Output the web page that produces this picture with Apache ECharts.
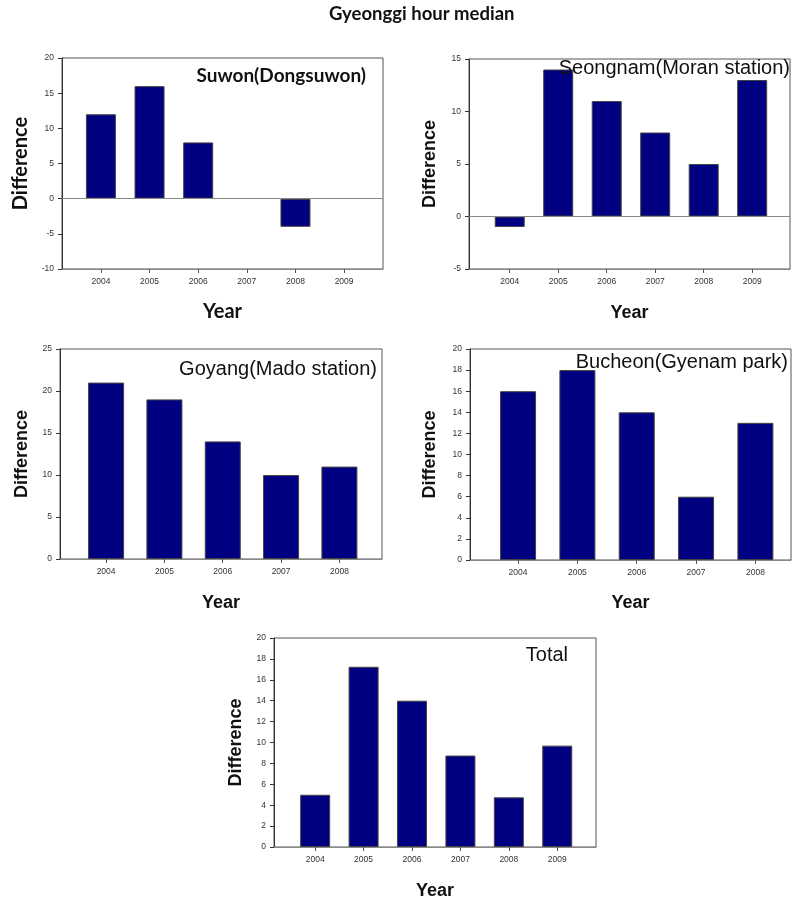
<!DOCTYPE html>
<html>
<head>
<meta charset="utf-8">
<script src="https://cdn.jsdelivr.net/npm/echarts@6/dist/echarts.min.js"></script>
<style>html,body{margin:0;padding:0;background:#fff}#c{width:792px;height:901px}</style>
</head>
<body>
<div id="c"></div>
<script>
// ---- data ----
const mainTitle = 'Gyeonggi hour median';
const yAxisName = 'Difference';
const xAxisName = 'Year';

const suwonLabel = 'Suwon(Dongsuwon)';
const suwonYears = [2004, 2005, 2006, 2007, 2008, 2009];
const suwonValues = [12, 16, 8, null, -4, null];

const seongnamLabel = 'Seongnam(Moran station)';
const seongnamYears = [2004, 2005, 2006, 2007, 2008, 2009];
const seongnamValues = [-1, 14, 11, 8, 5, 13];

const goyangLabel = 'Goyang(Mado station)';
const goyangYears = [2004, 2005, 2006, 2007, 2008];
const goyangValues = [21, 19, 14, 10, 11];

const bucheonLabel = 'Bucheon(Gyenam park)';
const bucheonYears = [2004, 2005, 2006, 2007, 2008];
const bucheonValues = [16, 18, 14, 6, 13];

const totalLabel = 'Total';
const totalYears = [2004, 2005, 2006, 2007, 2008, 2009];
const totalValues = [5, 17.25, 14, 8.75, 4.75, 9.7];

// y tick settings per panel
const suwonYTicks = {min: -10, max: 20, interval: 5};
const seongnamYTicks = {min: -5, max: 15, interval: 5};
const goyangYTicks = {min: 0, max: 25, interval: 5};
const bucheonYTicks = {min: 0, max: 20, interval: 2};
const totalYTicks = {min: 0, max: 20, interval: 2};

// ---- layout (not data) ----
const panels = [
  {label: suwonLabel, years: suwonYears, values: suwonValues, yt: suwonYTicks,
   grid: {left: 62, top: 58, width: 321, height: 211}, xr: [2003.2, 2009.8], bw: 30,
   labelFont: 'Lato', labelWeight: 'bold', labelSize: 19, labelPos: {right: 792 - 366, top: 66},
   nameFont: 'Lato', nameSize: 20, yGap: 31, xGap: 33, zero: true},
  {label: seongnamLabel, years: seongnamYears, values: seongnamValues, yt: seongnamYTicks,
   grid: {left: 469, top: 59, width: 321, height: 210}, xr: [2003.16, 2009.78], bw: 30,
   labelFont: 'Liberation Sans', labelWeight: 'normal', labelSize: 20, labelPos: {right: 2, top: 58},
   nameFont: 'Liberation Sans', nameSize: 18, yGap: 30, xGap: 35, zero: true},
  {label: goyangLabel, years: goyangYears, values: goyangValues, yt: goyangYTicks,
   grid: {left: 60, top: 349, width: 322, height: 210}, xr: [2003.21, 2008.73], bw: 36,
   labelFont: 'Liberation Sans', labelWeight: 'normal', labelSize: 20, labelPos: {right: 792 - 377, top: 359},
   nameFont: 'Liberation Sans', nameSize: 18, yGap: 29, xGap: 35, zero: false},
  {label: bucheonLabel, years: bucheonYears, values: bucheonValues, yt: bucheonYTicks,
   grid: {left: 470, top: 349, width: 321, height: 211}, xr: [2003.19, 2008.6], bw: 36,
   labelFont: 'Liberation Sans', labelWeight: 'normal', labelSize: 20, labelPos: {right: 4, top: 352},
   nameFont: 'Liberation Sans', nameSize: 18, yGap: 31, xGap: 34, zero: false},
  {label: totalLabel, years: totalYears, values: totalValues, yt: totalYTicks,
   grid: {left: 274, top: 638, width: 322, height: 210}, xr: [2003.15, 2009.8], bw: 30,
   labelFont: 'Liberation Sans', labelWeight: 'normal', labelSize: 20, labelPos: {right: 792 - 568, top: 645},
   nameFont: 'Liberation Sans', nameSize: 18, yGap: 29, xGap: 35, zero: false}
];

const grids = [], xAxes = [], yAxes = [], series = [];
const titles = [{
  text: mainTitle, left: 329, top: 5, padding: 0,
  textStyle: {fontFamily: 'Lato', fontWeight: 'bold', fontSize: 18.5, color: '#111'}
}];

panels.forEach((p, i) => {
  grids.push(Object.assign({show: true, borderColor: '#555', borderWidth: 1, backgroundColor: 'transparent'}, p.grid));
  xAxes.push({
    type: 'value', gridIndex: i, min: p.xr[0], max: p.xr[1], position: 'bottom',
    axisLine: {show: true, onZero: false, lineStyle: {color: '#888', width: 1}},
    axisTick: {show: true, length: 4, customValues: p.years, lineStyle: {color: '#555'}},
    axisLabel: {customValues: p.years, formatter: v => String(v), fontSize: 8.5, color: '#333', margin: 8, fontFamily: 'Liberation Sans'},
    splitLine: {show: false},
    name: xAxisName, nameLocation: 'middle', nameGap: p.xGap,
    nameTextStyle: {fontFamily: p.nameFont, fontWeight: 'bold', fontSize: p.nameSize, color: '#111'}
  });
  yAxes.push({
    type: 'value', gridIndex: i, min: p.yt.min, max: p.yt.max, interval: p.yt.interval,
    axisLine: {show: true, onZero: false, lineStyle: {color: '#333', width: 1}},
    axisTick: {show: true, length: 4, lineStyle: {color: '#333'}},
    axisLabel: {fontSize: 8.5, color: '#333', margin: 8, fontFamily: 'Liberation Sans'},
    splitLine: {show: false},
    name: yAxisName, nameLocation: 'middle', nameGap: p.yGap,
    nameTextStyle: {fontFamily: p.nameFont, fontWeight: 'bold', fontSize: p.nameSize, color: '#111'}
  });
  const s = {
    type: 'bar', xAxisIndex: i, yAxisIndex: i, barWidth: p.bw,
    data: p.years.map((y, k) => [y, p.values[k]]),
    itemStyle: {color: '#000080', borderColor: '#444', borderWidth: 1},
    silent: true, animation: false
  };
  if (p.zero) {
    s.markLine = {silent: true, symbol: 'none', animation: false, label: {show: false},
      lineStyle: {color: '#888', width: 1, type: 'solid'}, data: [{yAxis: 0}]};
  }
  series.push(s);
  titles.push(Object.assign({
    text: p.label, padding: 0,
    textStyle: {fontFamily: p.labelFont, fontWeight: p.labelWeight, fontSize: p.labelSize, color: '#111'}
  }, p.labelPos));
});

const chart = echarts.init(document.getElementById('c'), null, {renderer: 'canvas'});
chart.setOption({
  animation: false,
  backgroundColor: '#fff',
  title: titles,
  grid: grids,
  xAxis: xAxes,
  yAxis: yAxes,
  series: series
});
</script>
</body>
</html>
